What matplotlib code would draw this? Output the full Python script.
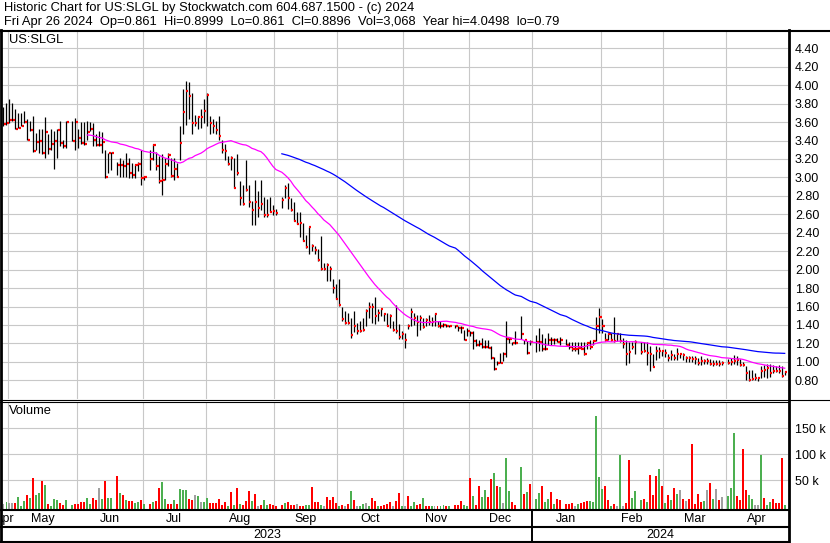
import numpy as np
import pandas as pd
import matplotlib
matplotlib.use('Agg')
import matplotlib.pyplot as plt

plt.rcParams['font.family'] = ['Liberation Sans', 'DejaVu Sans']

# Daily chart of US:SLGL, Apr 27 2023 - Apr 26 2024
# x axis runs over weekdays; market holidays leave an empty slot
holidays = ['2023-05-29', '2023-06-19', '2023-07-04', '2023-09-04', '2023-11-23',
            '2023-12-25', '2024-01-01', '2024-01-15', '2024-02-19', '2024-03-29']

high = [
    3.76, 3.81,  # Apr
    3.85, 3.81, 3.74, 3.70, 3.70, 3.72, 3.63, 3.61, 3.67, 3.48, 3.53, 3.52, 3.65, 3.47, 3.52, 3.50, 3.52, 3.61, 3.41, 3.61, 3.61, 3.64,
    3.52, 3.60, 3.60, 3.61, 3.60, 3.59, 3.47, 3.50, 3.49, 3.30, 3.27, 3.28, 3.17, 3.21, 3.19, 3.27, 3.21, 3.16, 3.15, 3.17, 3.30,
    3.02, 3.30, 3.36, 3.28, 3.23, 3.25, 3.21, 3.27, 3.21, 3.21, 3.16, 3.56, 3.96, 4.05, 4.03, 3.92, 3.68, 3.67, 3.74, 3.85,
    3.92, 3.67, 3.63, 3.61, 3.67, 3.41, 3.36, 3.23, 3.23, 3.21, 3.25, 2.96, 2.92, 3.19, 2.92, 2.74, 2.97, 2.85, 2.97, 2.79, 2.77, 2.79, 2.70,
    2.66, 2.79, 2.92, 2.94, 2.78, 2.73, 2.62, 2.62, 2.51, 2.38, 2.46, 2.28, 2.26, 2.22, 2.37, 2.07, 2.07, 2.04, 1.90, 1.84,
    1.90, 1.60, 1.55, 1.53, 1.48, 1.55, 1.42, 1.44, 1.48, 1.57, 1.65, 1.64, 1.70, 1.57, 1.57, 1.53, 1.53, 1.52, 1.44, 1.62, 1.41, 1.33,
    1.31, 1.41, 1.58, 1.53, 1.51, 1.51, 1.48, 1.48, 1.51, 1.49, 1.53, 1.44, 1.44, 1.42, 1.41, 1.40, 1.40, 1.39, 1.39, 1.35, 1.37,
    1.33, 1.33, 1.25, 1.24, 1.26, 1.24, 1.24, 1.17, 1.05, 1.01, 1.10, 1.11, 1.44, 1.26, 1.22, 1.33, 1.50, 1.24, 1.23, 1.24,
    1.29, 1.37, 1.30, 1.26, 1.31, 1.27, 1.26, 1.26, 1.27, 1.25, 1.21, 1.21, 1.22, 1.21, 1.21, 1.21, 1.21, 1.24, 1.24, 1.49, 1.58,
    1.47, 1.31, 1.31, 1.31, 1.49, 1.31, 1.31, 1.26, 1.24, 1.21, 1.22, 1.24, 1.21, 1.21, 1.21, 1.17, 1.08, 1.17, 1.16, 1.13,
    1.14, 1.09, 1.13, 1.09, 1.15, 1.09, 1.10, 1.06, 1.06, 1.06, 1.06, 1.04, 1.06, 1.03, 1.04, 1.03, 1.02, 1.02, 1.02, 1.01,
    1.03, 1.04, 1.07, 1.06, 1.03, 1.00, 0.95, 0.91, 0.91, 0.875, 0.84, 0.95, 0.965, 0.98, 0.98, 0.965, 0.955, 0.965, 0.95, 0.8999,
]
low = [
    3.56, 3.57,
    3.59, 3.61, 3.53, 3.54, 3.56, 3.59, 3.41, 3.50, 3.28, 3.30, 3.27, 3.25, 3.21, 3.25, 3.30, 3.09, 3.21, 3.34, 3.32, 3.32, 3.39, 3.30,
    3.32, 3.36, 3.35, 3.41, 3.50, 3.34, 3.34, 3.34, 3.27, 2.99, 3.05, 3.08, 3.03, 3.01, 3.01, 3.01, 2.99, 2.99, 2.99, 3.07, 2.92,
    2.97, 3.08, 3.19, 3.08, 2.94, 2.81, 2.97, 3.12, 3.00, 2.97, 3.00, 3.19, 3.47, 3.57, 3.63, 3.47, 3.56, 3.52, 3.54, 3.59,
    3.56, 3.47, 3.48, 3.47, 3.41, 3.27, 3.19, 3.14, 3.08, 2.88, 3.03, 2.70, 2.70, 2.85, 2.68, 2.48, 2.48, 2.57, 2.65, 2.57, 2.57, 2.63, 2.59,
    2.59, 2.67, 2.78, 2.66, 2.64, 2.53, 2.49, 2.35, 2.31, 2.24, 2.17, 2.20, 2.17, 2.09, 2.00, 2.00, 1.88, 1.88, 1.75, 1.68,
    1.61, 1.44, 1.41, 1.41, 1.26, 1.32, 1.30, 1.32, 1.33, 1.39, 1.48, 1.42, 1.41, 1.44, 1.50, 1.44, 1.39, 1.37, 1.33, 1.31, 1.25, 1.25,
    1.15, 1.36, 1.39, 1.40, 1.28, 1.35, 1.37, 1.39, 1.40, 1.39, 1.39, 1.38, 1.37, 1.38, 1.38, 1.38, 1.37, 1.33, 1.31, 1.24, 1.28,
    1.28, 1.14, 1.17, 1.17, 1.15, 1.15, 1.15, 1.03, 0.91, 0.97, 0.99, 1.01, 1.05, 1.20, 1.18, 1.19, 1.25, 1.19, 1.08, 1.18,
    1.11, 1.12, 1.12, 1.13, 1.18, 1.18, 1.19, 1.21, 1.18, 1.18, 1.14, 1.12, 1.12, 1.08, 1.14, 1.07, 1.14, 1.14, 1.18, 1.23, 1.31,
    1.31, 1.23, 1.24, 1.23, 1.21, 1.23, 1.21, 1.15, 0.97, 0.99, 1.14, 1.08, 1.08, 1.11, 0.97, 0.90, 0.94, 1.02, 1.04, 1.06,
    1.05, 1.01, 1.02, 1.02, 1.02, 1.04, 1.02, 1.00, 1.00, 1.00, 0.98, 0.97, 0.97, 0.98, 0.98, 0.97, 0.96, 0.97, 0.96, 0.97,
    0.98, 0.965, 0.98, 0.965, 0.95, 0.95, 0.80, 0.79, 0.80, 0.80, 0.79, 0.82, 0.84, 0.82, 0.84, 0.875, 0.89, 0.88, 0.84, 0.861,
]
close = [
    3.58, 3.59,
    3.62, 3.62, 3.53, 3.54, 3.56, 3.60, 3.41, 3.51, 3.29, 3.38, 3.39, 3.26, 3.49, 3.31, 3.36, 3.39, 3.51, 3.37, 3.34, 3.60, 3.39, 3.60,
    3.43, 3.37, 3.36, 3.49, 3.53, 3.41, 3.35, 3.35, 3.38, 3.00, 3.26, 3.27, 3.13, 3.13, 3.12, 3.15, 3.05, 3.03, 3.14, 3.15, 2.99,
    3.01, 3.20, 3.35, 3.12, 2.96, 2.97, 3.15, 3.24, 3.02, 3.09, 3.00, 3.37, 3.71, 3.94, 3.88, 3.59, 3.59, 3.65, 3.65, 3.72,
    3.89, 3.59, 3.56, 3.51, 3.45, 3.30, 3.29, 3.15, 3.21, 2.89, 3.05, 2.78, 2.71, 2.86, 2.73, 2.65, 2.73, 2.67, 2.71, 2.59, 2.59, 2.63, 2.64,
    2.61, 2.75, 2.88, 2.78, 2.65, 2.53, 2.50, 2.51, 2.31, 2.25, 2.46, 2.26, 2.21, 2.10, 2.01, 2.01, 2.05, 2.01, 1.80, 1.68,
    1.62, 1.46, 1.42, 1.42, 1.29, 1.39, 1.33, 1.33, 1.35, 1.55, 1.60, 1.60, 1.50, 1.53, 1.57, 1.52, 1.39, 1.50, 1.35, 1.33, 1.27, 1.30,
    1.24, 1.39, 1.54, 1.48, 1.43, 1.48, 1.38, 1.45, 1.43, 1.43, 1.52, 1.39, 1.39, 1.40, 1.39, 1.39, 1.39, 1.37, 1.37, 1.24, 1.33,
    1.31, 1.23, 1.18, 1.19, 1.16, 1.16, 1.15, 1.04, 0.92, 0.99, 0.99, 1.09, 1.25, 1.25, 1.20, 1.20, 1.30, 1.24, 1.10, 1.21,
    1.21, 1.22, 1.14, 1.14, 1.24, 1.24, 1.24, 1.22, 1.24, 1.18, 1.16, 1.14, 1.14, 1.15, 1.14, 1.08, 1.20, 1.16, 1.23, 1.39, 1.49,
    1.39, 1.24, 1.30, 1.24, 1.23, 1.30, 1.23, 1.19, 1.08, 1.11, 1.16, 1.21, 1.11, 1.12, 1.10, 1.08, 0.94, 1.12, 1.12, 1.12,
    1.10, 1.04, 1.07, 1.04, 1.085, 1.085, 1.07, 1.04, 1.04, 1.03, 1.03, 0.99, 1.01, 1.01, 1.01, 0.98, 0.98, 0.98, 0.98, 0.99,
    0.99, 1.00, 1.01, 1.02, 0.965, 0.965, 0.875, 0.80, 0.81, 0.82, 0.82, 0.90, 0.91, 0.93, 0.875, 0.90, 0.90, 0.90, 0.846, 0.8896,
]

# volume in thousands of shares
volume_k = [
    4.4, 7.6,
    5.7, 6.3, 6.3, 17.3, 0.3, 9.5, 21.2, 15.4, 54.7, 21.8, 25.7, 48.9, 41.2, 4.4, 0.3, 13.4, 12.1, 6.3, 2.5, 12.1, 2.5, 4.4,
    4.4, 8.9, 8.9, 16.0, 4.4, 16.0, 12.1, 35.3, 14.1, 48.9, 16.0, 16.0, 58.6, 25.7, 22.4, 12.1, 9.5, 10.8, 5.7, 8.3, 12.1,
    4.4, 4.4, 8.9, 10.8, 36.0, 47.0, 14.1, 4.4, 4.4, 12.1, 5.0, 33.4, 32.1, 32.1, 14.1, 12.8, 22.4, 20.5, 7.6, 8.9,
    16.0, 6.3, 6.3, 6.3, 14.1, 2.5, 8.3, 1.2, 27.6, 2.5, 35.3, 4.4, 2.5, 10.8, 29.5, 9.5, 23.7, 0.3, 3.1, 12.1, 2.5, 4.4, 3.1,
    1.2, 2.5, 6.3, 8.9, 3.1, 3.1, 4.4, 0.3, 0.3, 2.5, 2.5, 37.9, 7.6, 8.9, 2.5, 0.3, 17.3, 12.1, 17.3, 6.3,
    1.2, 2.5, 0.3, 4.4, 29.5, 12.1, 0.3, 0.3, 4.4, 6.3, 0.3, 16.0, 10.8, 1.2, 0.3, 2.5, 4.4, 7.6, 1.2, 10.2, 25.7, 0.3,
    0.3, 19.9, 0.3, 7.6, 3.1, 4.4, 16.0, 0.3, 0.3, 0.3, 0.3, 0.3, 0.3, 2.5, 0.3, 0.3, 2.5, 2.5, 9.5, 2.5, 0.3,
    54.7, 19.9, 3.1, 38.6, 17.3, 31.5, 17.3, 52.8, 64.4, 39.2, 36.6, 6.3, 93.4, 28.9, 8.3, 3.1, 75.3, 23.7, 27.0, 43.1,
    14.1, 25.7, 39.2, 8.9, 14.1, 27.6, 4.4, 13.4, 12.1, 5.0, 5.0, 6.3, 0.3, 4.4, 5.7, 8.9, 9.5, 9.5, 8.9, 174.0, 56.6,
    32.8, 39.2, 12.1, 1.2, 4.4, 0.3, 99.2, 0.3, 6.3, 89.5, 15.4, 29.5, 12.1, 13.4, 8.9, 60.5, 22.4, 59.2, 71.5, 39.2,
    6.3, 22.4, 12.1, 35.3, 23.7, 31.5, 13.4, 10.8, 14.1, 120.5, 4.4, 24.4, 8.9, 10.8, 31.5, 45.0, 14.1, 33.4, 12.1, 18.6,
    19.9, 34.7, 141.8, 19.9, 12.1, 110.8, 31.5, 22.4, 14.1, 2.5, 2.5, 99.2, 16.0, 2.5, 7.6, 14.1, 6.3, 6.3, 93.4, 3.1,
]
# colour of each volume bar as drawn: u = up day, d = down day, n = unchanged
vol_dir = ''.join([
    'nu',                       # Apr 2023
    'nnduuududuududuuudduud',   # May
    'ddduuddnuduudududduud',    # Jun
    'ududduudduduuuddnunu',     # Jul
    'uddddddudududddudnduudd',  # Aug
    'ddudddndduudddundddd',     # Sep
    'udndudnuunudduddddnddu',   # Oct
    'nduudduddunduududdduu',    # Nov
    'dudduuddudunuuddudud',     # Dec
    'uuduududddddnuddduuuu',    # Jan 2024
    'uddudnundduuududddud',     # Feb
    'ududundndddddundundn',     # Mar
    'uuudddduunnuduuddddu',     # Apr
])

weekdays = pd.bdate_range('2023-04-27', '2024-04-26')
trade_days = weekdays[~weekdays.isin(pd.to_datetime(holidays))]
n = len(trade_days)
assert len(high) == len(low) == len(close) == len(volume_k) == len(vol_dir) == n, \
    (len(high), len(low), len(close), len(volume_k), len(vol_dir), n)
x = np.array([weekdays.get_loc(d) for d in trade_days])

high = np.array(high)
low = np.array(low)
close = np.array(close)
vol = np.array(volume_k) * 1000

ma_short = pd.Series(close).rolling(28).mean()
ma_long = pd.Series(close).rolling(90).mean()

# month boundaries on the weekday axis
bounds = [i - 0.5 for i in range(1, len(weekdays)) if weekdays[i].month != weekdays[i - 1].month]
year_bound = [b for b in bounds if weekdays[int(b + 0.5)].year == 2024][0]
XMIN, XMAX = -0.5, 262.1

W, H = 830, 543
fig = plt.figure(figsize=(W / 100, H / 100), dpi=100)


def rect(x0, y0, x1, y1):
    return [x0 / W, 1 - y1 / H, (x1 - x0) / W, (y1 - y0) / H]


grid_c = '#c8c8c8'
ax = fig.add_axes(rect(2, 31, 788, 399))
axv = fig.add_axes(rect(2, 402, 788, 509))
axm = fig.add_axes(rect(2, 510, 788, 527))
axy = fig.add_axes(rect(2, 527, 788, 542))

for a in (ax, axv, axm, axy):
    a.set_xlim(XMIN, XMAX)
    for s in a.spines.values():
        s.set_visible(False)

# price panel: high-low bars, red close tick, moving averages
ax.vlines(x, low, high, color='black', lw=0.9, zorder=3)
ax.hlines(close, x + 0.1, x + 0.8, color='#ff0000', lw=1.6, zorder=4)
ax.plot(x, ma_long, color='#0000ff', lw=0.9, zorder=5)
ax.plot(x, ma_short, color='#ff00ff', lw=0.9, zorder=5)
ax.set_ylim(0.597, 4.588)
yt = np.round(np.arange(0.8, 4.41, 0.2), 2)
ax.set_yticks(yt)
ax.set_yticklabels([f'{v:.2f}' for v in yt])
ax.yaxis.tick_right()
ax.set_xticks(bounds)
ax.set_xticklabels([])
ax.tick_params(axis='both', length=0, labelsize=9, pad=5)
ax.grid(True, color=grid_c, lw=0.8, zorder=0)

# volume panel, bars drawn up from the panel floor
VMIN, VMAX = -5200, 200600
colors = {'u': '#4caf50', 'd': '#ff0000', 'n': '#a0a0a0'}
axv.bar(x, vol - VMIN, bottom=VMIN, width=0.66, color=[colors[c] for c in vol_dir], zorder=3)
axv.set_ylim(VMIN, VMAX)
axv.set_yticks([50000, 100000, 150000])
axv.set_yticklabels(['50 k', '100 k', '150 k'])
axv.yaxis.tick_right()
axv.set_xticks(bounds)
axv.set_xticklabels([])
axv.tick_params(axis='both', length=0, labelsize=9, pad=5)
axv.grid(True, color=grid_c, lw=0.8, zorder=0)

# month and year rows (the first April is cut by the left edge, as in the original)
edges = [XMIN] + bounds + [XMAX]
for i in range(len(edges) - 1):
    mid = (edges[i] + edges[i + 1]) / 2
    day = weekdays[min(int(edges[i] + 0.5), len(weekdays) - 1)]
    axm.text(mid, 0.45, day.strftime('%b'), ha='center', va='center', fontsize=9, clip_on=True)
axm.set_ylim(0, 1)
axm.axvline(year_bound, color='black', lw=1.4)
axm.axis('off')
axy.set_ylim(0, 1)
axy.text((XMIN + year_bound) / 2, 0.45, '2023', ha='center', va='center', fontsize=9)
axy.text((year_bound + XMAX) / 2, 0.45, '2024', ha='center', va='center', fontsize=9)
axy.axvline(year_bound, color='black', lw=1.4)
axy.axis('off')

# frame lines and header, in pixel coordinates
fr = fig.add_axes([0, 0, 1, 1], zorder=10)
fr.set_xlim(0, W)
fr.set_ylim(H, 0)
fr.axis('off')
fr.patch.set_alpha(0)
fr.plot([0, W], [30.5, 30.5], color='black', lw=1.5)
fr.plot([1, 1], [30, H], color='black', lw=2)
fr.plot([789, 789], [30, H], color='black', lw=2)
fr.plot([0, W], [400, 400], color='black', lw=0.8)
fr.plot([0, 789], [402.2, 402.2], color='black', lw=0.8)
fr.plot([0, 789], [509.8, 509.8], color='black', lw=1.5)
fr.plot([0, 789], [526.8, 526.8], color='black', lw=1.5)
fr.plot([0, 789], [541.8, 541.8], color='black', lw=1.5)

fr.text(4, 2, 'Historic Chart for US:SLGL by Stockwatch.com 604.687.1500 - (c) 2024',
        va='top', ha='left', fontsize=9.3)
fr.text(4, 16, 'Fri Apr 26 2024  Op=0.861  Hi=0.8999  Lo=0.861  Cl=0.8896  Vol=3,068  '
        'Year hi=4.0498  lo=0.79', va='top', ha='left', fontsize=9.3)
fr.text(9, 34, 'US:SLGL', va='top', ha='left', fontsize=9.3)
fr.text(9, 405, 'Volume', va='top', ha='left', fontsize=9.3)

fig.savefig('out.png', dpi=100, facecolor='white')
